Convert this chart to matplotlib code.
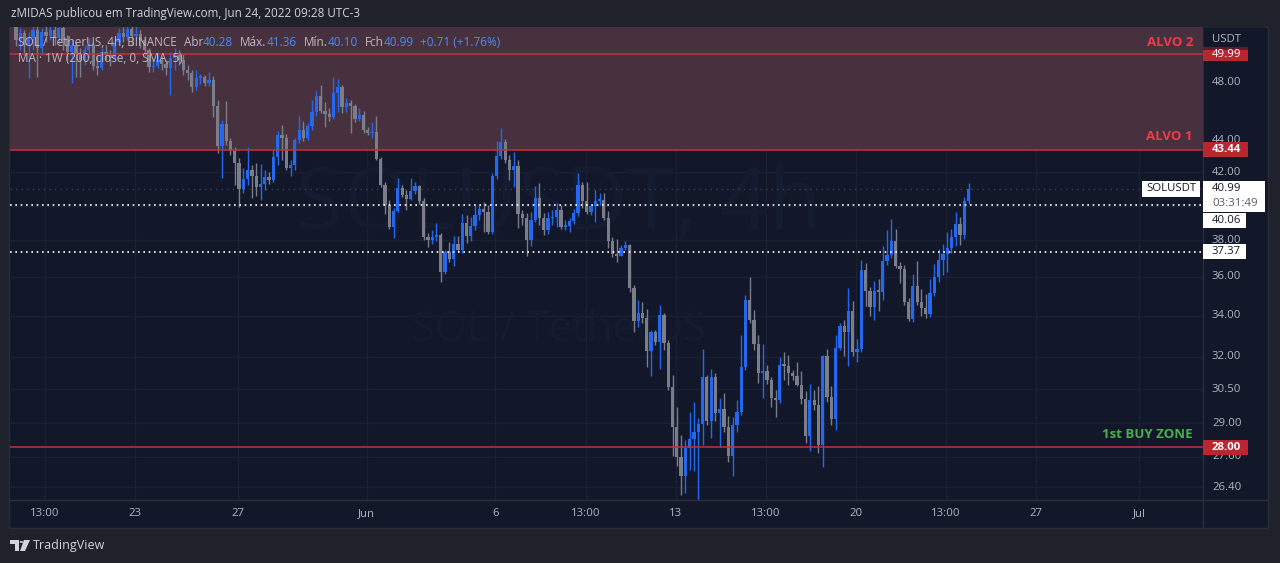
import numpy as np
import matplotlib
matplotlib.use('Agg')
import matplotlib.pyplot as plt
from matplotlib.patches import Rectangle, Polygon, Circle

plt.rcParams['font.family'] = ['Open Sans', 'DejaVu Sans']

# ---------------- data (SOL/USDT 4h) ----------------
first_open = 52.30
closes = [
    51.07, 51.60, 50.69, 51.22, 51.83, 50.47, 51.68, 51.37, 51.83, 51.22,
    51.98, 51.07, 50.17, 50.69, 49.95, 49.58, 50.32, 50.69, 49.15, 49.00,
    50.17, 49.95, 49.73, 50.92, 51.60, 51.30, 51.91, 51.37, 51.53, 51.07,
    50.32, 49.07, 49.15, 49.58, 49.29, 49.00, 49.73, 49.95, 49.58, 48.86,
    48.64, 47.65, 48.29, 48.35,
    47.93, 48.14, 46.33, 43.68, 45.11, 44.00, 43.35, 42.59, 40.99, 41.60,
    42.16, 41.79, 41.11, 41.29, 41.72, 41.54, 42.97, 44.39, 44.20, 42.28,
    42.47, 44.07, 44.72, 44.20, 44.98, 45.92, 47.02, 45.99, 45.79, 45.58,
    47.23, 47.65, 46.26, 46.54, 46.33, 45.45, 45.72, 44.72, 44.52, 44.59,
    42.84, 41.23, 40.03, 38.76, 39.68, 41.05, 40.63, 40.39, 40.87, 41.17,
    40.27, 38.19, 38.02, 38.19, 38.30, 36.26, 37.35, 36.97, 37.80, 37.46,
    38.98, 38.24, 38.81, 39.45, 39.80, 39.62, 38.47, 41.79, 43.03, 43.94,
    42.78, 42.16, 42.41, 39.51, 39.27, 38.02, 39.16, 40.45, 39.27, 38.59,
    39.27, 39.33, 39.74, 38.76, 38.81, 39.10, 39.56, 41.23, 40.27, 39.62,
    39.97, 40.27, 40.33, 39.27, 37.96, 37.24, 37.13, 37.57, 37.74, 35.42,
    33.72, 34.13, 33.88, 32.27, 33.19, 32.70, 34.03, 32.66, 30.60, 28.85,
    27.60, 26.84, 27.97, 28.34, 28.64, 28.97, 31.06, 29.10, 31.06, 29.45,
    29.63, 28.85, 27.64, 28.93, 29.50, 31.52, 34.80, 33.78, 32.61, 31.24,
    31.33, 30.92, 30.11, 30.02, 31.61, 31.57, 31.24, 31.10, 30.69, 30.06,
    28.47, 30.02, 29.80, 28.09, 32.03, 30.15, 29.19, 32.42, 33.48, 33.19,
    34.23, 32.22, 32.37, 36.37, 35.26, 34.44, 35.26, 35.21, 36.86, 37.19,
    37.96, 36.59, 36.43, 34.69, 33.83, 35.52, 34.69, 34.39, 34.08, 35.16,
    35.99, 36.91, 37.24, 37.57, 38.19, 38.93, 38.30, 40.28, 40.99,
]
highs = [
    52.77, 51.98, 51.83, 51.68, 52.22, 52.14, 51.98, 52.30, 52.45, 52.22,
    52.61, 52.45, 51.45, 51.07, 50.92, 50.47, 50.69, 51.22, 50.92, 49.95,
    50.47, 50.69, 50.32, 51.22, 51.98, 52.06, 52.45, 52.22, 52.61, 51.83,
    51.37, 50.47, 49.73, 50.17, 49.88, 49.58, 50.17, 50.47, 50.32, 50.02,
    49.22, 48.86, 48.86, 48.57,
    48.50, 48.71, 48.43, 46.74, 45.38, 46.68, 44.20, 43.61, 42.91, 42.28,
    43.61, 42.47, 42.59, 42.53, 42.16, 42.03, 43.42, 44.65, 45.05, 44.46,
    42.78, 44.20, 45.65, 45.32, 45.18, 46.74, 47.37, 47.79, 46.61, 46.19,
    48.36, 48.21, 47.79, 46.88, 46.74, 46.47, 46.19, 45.99, 44.92, 45.25,
    45.65, 42.97, 41.42, 40.33, 39.85, 41.66, 41.23, 40.93, 41.66, 41.42,
    41.23, 40.45, 38.41, 38.59, 38.98, 38.41, 37.46, 37.91, 38.24, 38.24,
    39.51, 39.45, 39.33, 40.03, 40.03, 40.21, 40.03, 41.97, 44.00, 44.85,
    44.13, 43.10, 43.29, 42.78, 39.74, 39.56, 39.62, 41.17, 41.36, 39.56,
    39.62, 39.74, 40.15, 40.03, 39.16, 39.27, 39.80, 41.97, 41.42, 41.42,
    40.09, 40.93, 40.75, 40.75, 39.68, 38.19, 38.07, 37.74, 37.96, 37.80,
    35.58, 34.80, 34.69, 34.34, 33.29, 33.29, 34.54, 34.13, 32.80, 31.15,
    29.71, 28.51, 28.30, 29.50, 29.93, 29.23, 32.37, 31.15, 31.43, 31.24,
    30.10, 30.33, 29.32, 29.28, 30.02, 33.04, 35.05, 35.99, 34.29, 33.04,
    32.61, 31.61, 31.05, 30.47, 31.99, 32.22, 32.08, 31.38, 31.75, 31.33,
    30.42, 30.74, 30.47, 30.65, 32.08, 32.37, 30.65, 33.04, 33.63, 33.78,
    35.42, 34.75, 32.85, 36.91, 36.75, 35.47, 35.79, 35.89, 37.69, 38.59,
    39.22, 38.64, 36.81, 36.64, 34.90, 36.16, 36.86, 35.37, 35.10, 35.89,
    36.70, 37.52, 37.80, 38.47, 38.64, 39.62, 39.33, 40.51, 41.36,
]
lows = [
    50.62, 50.32, 49.95, 48.29, 50.32, 48.36, 49.95, 50.92, 51.07, 50.69,
    50.77, 50.32, 49.58, 47.93, 48.36, 48.36, 49.22, 49.73, 48.86, 48.50,
    48.86, 49.58, 49.15, 49.58, 50.69, 50.92, 51.07, 50.69, 51.07, 50.47,
    49.95, 48.71, 48.71, 49.00, 48.86, 48.50, 47.09, 48.86, 49.22, 48.50,
    48.14, 47.30, 47.44, 47.86,
    47.72, 47.72, 45.58, 43.23, 41.66, 43.74, 43.10, 41.23, 39.91, 40.75,
    41.23, 40.45, 40.57, 40.33, 40.93, 41.29, 41.42, 42.47, 42.78, 42.16,
    41.79, 42.16, 43.87, 44.00, 44.07, 44.72, 45.65, 45.85, 44.92, 45.32,
    45.45, 45.92, 45.85, 45.92, 44.52, 45.25, 45.32, 44.52, 44.39, 44.20,
    42.78, 41.10, 39.51, 38.64, 38.13, 39.62, 40.51, 39.74, 40.33, 40.69,
    40.09, 38.02, 37.63, 37.80, 37.96, 35.73, 36.16, 36.81, 36.59, 37.35,
    37.30, 37.85, 37.96, 38.59, 39.16, 38.47, 38.36, 38.36, 41.60, 42.84,
    42.59, 41.54, 41.11, 38.70, 38.87, 37.13, 37.69, 39.04, 38.87, 38.30,
    38.36, 38.87, 38.76, 38.64, 38.59, 38.47, 38.93, 39.39, 39.85, 39.51,
    39.45, 39.04, 40.03, 39.16, 37.57, 37.08, 36.81, 37.13, 37.46, 35.21,
    33.19, 33.44, 33.64, 31.52, 31.10, 32.56, 31.43, 32.32, 30.47, 27.64,
    27.24, 26.09, 26.17, 27.07, 27.03, 25.90, 28.09, 28.93, 28.39, 29.10,
    28.01, 28.64, 27.40, 26.84, 28.64, 29.37, 31.38, 33.63, 32.32, 30.78,
    30.11, 30.74, 29.71, 29.28, 29.89, 30.92, 30.69, 30.92, 30.65, 29.84,
    28.18, 27.85, 29.58, 27.76, 27.19, 29.93, 28.93, 28.72, 32.32, 32.03,
    31.57, 32.03, 31.75, 32.22, 34.49, 33.98, 33.78, 34.23, 34.80, 36.64,
    37.02, 36.48, 35.68, 34.54, 33.73, 33.68, 34.54, 33.98, 33.88, 33.93,
    35.00, 35.73, 36.10, 36.26, 37.30, 37.69, 37.74, 38.07, 40.10,
]
last_time_day = 32.375          # Jun 24 09:00 (days after May 23 00:00)
candle_step = 1 / 6             # 4h

level_alvo2 = 49.99
level_alvo1 = 43.44
level_buy = 28.00
dotted_levels = [40.06, 37.37]
last_price = 40.99

grid_vals = [48, 44, 42, 40, 38, 36, 34, 32, 30.5, 29, 27.6, 26.4]
ytick_vals = [48, 44, 42, 38, 36, 34, 32, 30.5, 29, 27.6, 26.4]
xtick_days = [-3.5, 0, 4, 9, 14, 17.5, 21, 24.5, 28, 31.5, 35, 39]
xtick_labels = ['13:00', '23', '27', 'Jun', '6', '13:00', '13', '13:00', '20', '13:00', '27', 'Jul']

header_parts = [('SOL / TetherUS, 4h, BINANCE', 'lab', 7), ('Abr', 'lab', 0), ('40.28', 'val', 7),
                ('Máx.', 'lab', 0), ('41.36', 'val', 7), ('Mín.', 'lab', 0), ('40.10', 'val', 7),
                ('Fch', 'lab', 0), ('40.99', 'val', 6), ('+0.71 (+1.76%)', 'val', 0)]

# ---------------- style ----------------
OUTER = '#1f222a'
PANE = '#121829'
GRID = '#1a2132'
ZONE = '#47313f'
RED_LINE = '#c4303a'
RED_BOX = '#b8262f'
UP = '#2468f0'
DOWN = '#7b7e89'
AXT = '#b2b5be'
W, H = 1280, 563

fig = plt.figure(figsize=(W / 100, H / 100), dpi=100, facecolor=OUTER)

def fx(x):
    return x / W

def fy(y):
    return 1 - y / H

# pane background (chart + axes strips)
fig.add_artist(Rectangle((fx(9), fy(528)), fx(1259), 501 / H, transform=fig.transFigure,
                         facecolor=PANE, edgecolor='#2a2e39', lw=1, zorder=0))

ax = fig.add_axes([fx(10), fy(500), fx(1193), 473 / H])
ax.set_facecolor(PANE)
ax.set_yscale('log')
ax.set_ylim(25.90, 52.06)
ax.set_xlim(-4.854, 41.476)
for s in ax.spines.values():
    s.set_visible(False)
ax.set_xticks([])
ax.set_yticks([])
ax.yaxis.set_minor_locator(matplotlib.ticker.NullLocator())

n = len(closes)
days = np.array([last_time_day - (n - 1 - i) * candle_step for i in range(n)])
c = np.array(closes)
o = np.concatenate([[first_open], c[:-1]])
hi = np.maximum(np.array(highs), np.maximum(o, c))
lo = np.minimum(np.array(lows), np.minimum(o, c))
up = c >= o
cols = np.where(up, UP, DOWN)

# grid
for yv in grid_vals:
    ax.axhline(yv, color=GRID, lw=1, zorder=0.5)
for xv in xtick_days:
    ax.axvline(xv, color=GRID, lw=1, zorder=0.5)

# watermark
ax.text(0.46, 0.62, 'SOLUSDT, 4h', transform=ax.transAxes, ha='center', va='center',
        fontsize=62, color='#151c2f', zorder=0.6)
ax.text(0.46, 0.36, 'SOL / TetherUS', transform=ax.transAxes, ha='center', va='center',
        fontsize=30, color='#151c2f', zorder=0.6)

# target zone
ax.axhspan(level_alvo1, 60, color=ZONE, zorder=0.7, lw=0)
for lv in (level_alvo2, level_alvo1, level_buy):
    ax.axhline(lv, color=RED_LINE, lw=1.1, zorder=3)
ax.axhline(last_price, color='#3a4050', lw=1, ls=(0, (1, 3)), zorder=1)
for lv in dotted_levels:
    ax.axhline(lv, color='white', lw=1.2, ls=(0, (1, 2.2)), zorder=3)

# candles
ax.vlines(days, lo, hi, colors=cols, lw=1.0, zorder=2)
body_bot = np.minimum(o, c)
body_h = np.maximum(np.abs(c - o), body_bot * 0.0022)
ax.bar(days, body_h, bottom=body_bot, width=0.125, color=cols, lw=0, zorder=2.1)

# annotations in the chart
red_txt = '#f03b46'
fig.text(fx(1193), fy(43), 'ALVO 2', ha='right', va='center', fontsize=9.5,
         fontweight='bold', color=red_txt)
fig.text(fx(1193), fy(137), 'ALVO 1', ha='right', va='center', fontsize=9.5,
         fontweight='bold', color=red_txt)
fig.text(fx(1193), fy(434), '1st BUY ZONE', ha='right', va='center', fontsize=9.5,
         fontweight='bold', color='#4caf50')

# legend header (chained pieces)
colmap = {'lab': '#bdb8c2', 'val': '#4f8cf2'}
renderer = fig.canvas.get_renderer()
xcur = 18.0
for s, kind, gap in header_parts:
    t = fig.text(fx(xcur), fy(42), s, ha='left', va='center', fontsize=8.5, color=colmap[kind])
    bb = t.get_window_extent(renderer=renderer)
    xcur += bb.width + gap
fig.text(fx(18), fy(59), 'MA · 1W (200, close, 0, SMA, 5)', ha='left', va='center',
         fontsize=8.5, color=colmap['lab'])

# title
fig.text(fx(11), fy(14), 'zMIDAS publicou em TradingView.com, Jun 24, 2022 09:28 UTC-3',
         ha='left', va='center', fontsize=8.4, color='#d1d4dc')

# separators
fig.add_artist(plt.Line2D([fx(1203), fx(1203)], [fy(27), fy(527)], transform=fig.transFigure,
                          color='#2a2e39', lw=1))
fig.add_artist(plt.Line2D([fx(9), fx(1267)], [fy(500), fy(500)], transform=fig.transFigure,
                          color='#2a2e39', lw=1))

def ypix(p):
    return H - ax.transData.transform((0, p))[1]

# price axis ticks
for yv in ytick_vals:
    fig.text(fx(1212), fy(ypix(yv)), f'{yv:.2f}', ha='left', va='center', fontsize=8.2, color=AXT)

def box(x0, x1, yc, h, fc, txt, tc, tx=1212, bold=False):
    fig.add_artist(Rectangle((fx(x0), fy(yc + h / 2)), fx(x1 - x0), h / H, transform=fig.transFigure,
                             facecolor=fc, edgecolor='none', zorder=5))
    fig.text(fx(tx), fy(yc), txt, ha='left', va='center', fontsize=8.2, color=tc, zorder=6,
             fontweight='bold' if bold else 'normal')

box(1203, 1248, ypix(level_alvo2), 14, RED_BOX, '49.99', 'white')
fig.add_artist(Rectangle((fx(1203), fy(50)), fx(62), 23 / H, transform=fig.transFigure,
                         facecolor=PANE, alpha=0.55, edgecolor='none', zorder=5.5))
fig.text(fx(1212), fy(40), 'USDT', ha='left', va='center', fontsize=8.2, color=AXT, zorder=6)
box(1203, 1248, ypix(level_alvo1), 15, RED_BOX, '43.44', 'white', bold=True)
box(1203, 1248, ypix(level_buy), 15, RED_BOX, '28.00', 'white', bold=True)
yl = ypix(last_price)
fig.add_artist(Rectangle((fx(1203), fy(212)), fx(62), 31 / H, transform=fig.transFigure,
                         facecolor='white', edgecolor='none', zorder=5))
fig.text(fx(1212), fy(yl), '40.99', ha='left', va='center', fontsize=8.2, color='#131722', zorder=6)
fig.text(fx(1212), fy(yl + 15), '03:31:49', ha='left', va='center', fontsize=8.2, color='#555a66', zorder=6)
box(1203, 1246, 220.5, 15, 'white', '40.06', '#131722')
box(1203, 1246, ypix(dotted_levels[1]), 15, 'white', '37.37', '#131722')
box(1142, 1200, yl, 16, 'white', 'SOLUSDT', '#131722', tx=1146)

# time axis
for xv, s in zip(xtick_days, xtick_labels):
    xp = ax.transData.transform((xv, 30))[0]
    fig.text(xp / W, fy(514), s, ha='center', va='center', fontsize=8.2, color=AXT)

# TradingView logo
lc = '#d1d4dc'
fig.add_artist(Polygon([(fx(10), fy(540)), (fx(19), fy(540)), (fx(19), fy(551)), (fx(15), fy(551)),
                        (fx(15), fy(544)), (fx(10), fy(544))], closed=True, transform=fig.transFigure,
                       facecolor=lc, edgecolor='none'))
fig.add_artist(Polygon([(fx(24), fy(540)), (fx(30), fy(540)), (fx(25), fy(551)), (fx(20), fy(551))],
                       closed=True, transform=fig.transFigure, facecolor=lc, edgecolor='none'))
fig.add_artist(Circle((fx(21.5), fy(542)), 2.0 / W, transform=fig.transFigure, facecolor=lc,
                      edgecolor='none'))
fig.text(fx(33), fy(546), 'TradingView', ha='left', va='center', fontsize=9, color=lc)

fig.savefig('out.png', dpi=100, facecolor=OUTER)
